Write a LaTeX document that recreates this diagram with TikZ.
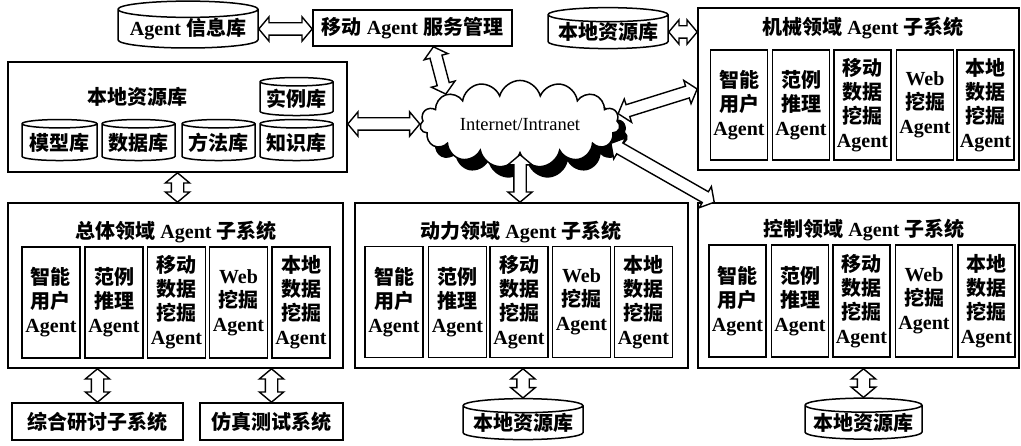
\documentclass[tikz,border=0pt]{standalone}
\usepackage{fontspec}
\setmainfont{Liberation Serif}
\newfontfamily\cjk{Noto Sans CJK SC}
\usetikzlibrary{shapes.geometric,shapes.symbols,shapes.arrows,shadows,calc}
\newcommand\zh[1]{{\cjk #1}}
\newcommand\agentA{\zh{智能}\\\zh{用户}\\Agent}
\newcommand\agentB{\zh{范例}\\\zh{推理}\\Agent}
\newcommand\agentC{\zh{移动}\\\zh{数据}\\\zh{挖掘}\\Agent}
\newcommand\agentD{Web\\\zh{挖掘}\\Agent}
\newcommand\agentE{\zh{本地}\\\zh{数据}\\\zh{挖掘}\\Agent}
\tikzset{
  box/.style={draw, line width=1.6pt, inner sep=0pt},
  dbase/.style={draw, line width=1.5pt, cylinder, shape border rotate=90,
    aspect=0.14, inner sep=0pt, fill=white},
  agentbox/.style={box, minimum width=57pt, minimum height=111pt, align=center},
  linkarrow/.style={draw, line width=1.4pt, double arrow, double arrow head extend=6pt,
    double arrow tip angle=100, inner xsep=0pt, inner ysep=5.5pt, fill=white},
}
\newcommand\link[2]{\path let \p1=($(#1)-(#2)$), \n1={veclen(\x1,\y1)} in
  (#1) -- (#2) node[midway, sloped, linkarrow, minimum height=\n1] {};}
\begin{document}
\begin{tikzpicture}[x=1pt, y=-1pt,
    every node/.append style={font=\bfseries\fontsize{20}{24}\selectfont}]
    \useasboundingbox[fill=white] (0,0) rectangle (1021,446);

    % top row
    \node[dbase, minimum width=140pt, minimum height=38pt] (info) at (188,29) {Agent \zh{信息库}};
    \node[box, minimum width=199pt, minimum height=36pt] (svc) at (412.5,28) {\zh{移动} Agent \zh{服务管理}};
    \node[dbase, minimum width=120pt, minimum height=36pt] (restop) at (608,32) {\zh{本地资源库}};

    % mechanical subsystem
    \node[box, minimum width=321pt, minimum height=162pt] (mech) at (858.5,89) {};
    \node (mechtitle) at (863,28) {\zh{机械领域} Agent \zh{子系统}};
    \node[agentbox, minimum height=110pt] (mechA) at (739,105) {\agentA};
    \node[agentbox, minimum height=110pt] (mechB) at (801,105) {\agentB};
    \node[agentbox, minimum height=110pt] (mechC) at (862.5,105) {\agentC};
    \node[agentbox, minimum height=110pt] (mechD) at (925,105) {\agentD};
    \node[agentbox, minimum height=110pt] (mechE) at (985.5,105) {\agentE};

    % local resources
    \node[box, minimum width=339pt, minimum height=110pt] (lres) at (177.5,117) {};
    \node (lrestitle) at (137.5,97) {\zh{本地资源库}};
    \node[dbase, minimum width=73pt, minimum height=38pt] (cases) at (296.5,99) {\zh{实例库}};
    \node[dbase, minimum width=75pt, minimum height=41pt] (models) at (59.5,142.5) {\zh{模型库}};
    \node[dbase, minimum width=73pt, minimum height=41pt] (data) at (138.5,142.5) {\zh{数据库}};
    \node[dbase, minimum width=73pt, minimum height=41pt] (methods) at (218.5,142.5) {\zh{方法库}};
    \node[dbase, minimum width=73pt, minimum height=41pt] (knowledge) at (296.5,142.5) {\zh{知识库}};

    % network
    \node[cloud, cloud puffs=15, aspect=3, draw, line width=1.5pt, fill=white,
      minimum width=200pt, minimum height=65pt,
      drop shadow={fill=black, opacity=1, shadow xshift=8pt, shadow yshift=-11pt}]
      (cloud) at (520,124) {\mdseries\fontsize{18.5}{20}\selectfont Internet/Intranet};

    % general subsystem
    \node[box, minimum width=335pt, minimum height=165pt] (gen) at (175.5,285.5) {};
    \node (gentitle) at (176,232) {\zh{总体领域} Agent \zh{子系统}};
    \node[agentbox, minimum width=58pt] (genA) at (51,302.5) {\agentA};
    \node[agentbox, minimum width=58pt] (genB) at (114,302.5) {\agentB};
    \node[agentbox, minimum width=58pt] (genC) at (176.5,302.5) {\agentC};
    \node[agentbox, minimum width=58pt] (genD) at (238.5,302.5) {\agentD};
    \node[agentbox, minimum width=58pt] (genE) at (301,302.5) {\agentE};

    % power subsystem
    \node[box, minimum width=333pt, minimum height=165pt] (power) at (521.5,285.5) {};
    \node (powertitle) at (521,232) {\zh{动力领域} Agent \zh{子系统}};
    \node[agentbox, minimum width=58pt] (powerA) at (394,302) {\agentA};
    \node[agentbox, minimum width=58pt] (powerB) at (457.5,302) {\agentB};
    \node[agentbox, minimum width=58pt] (powerC) at (519,302) {\agentC};
    \node[agentbox, minimum width=58pt] (powerD) at (581.5,302) {\agentD};
    \node[agentbox, minimum width=58pt] (powerE) at (643.5,302) {\agentE};

    % control subsystem
    \node[box, minimum width=321pt, minimum height=165pt] (ctrl) at (858.5,285.5) {};
    \node (ctrltitle) at (864,230) {\zh{控制领域} Agent \zh{子系统}};
    \node[agentbox, minimum height=112pt] (ctrlA) at (737.5,301) {\agentA};
    \node[agentbox, minimum height=112pt] (ctrlB) at (800,301) {\agentB};
    \node[agentbox, minimum height=112pt] (ctrlC) at (861.5,301) {\agentC};
    \node[agentbox, minimum height=112pt] (ctrlD) at (924,301) {\agentD};
    \node[agentbox, minimum height=112pt] (ctrlE) at (986.5,301) {\agentE};

    % bottom row
    \node[box, minimum width=171pt, minimum height=37pt] (seminar) at (97.5,421.5) {\zh{综合研讨子系统}};
    \node[box, minimum width=143pt, minimum height=37pt] (simtest) at (271.5,421.5) {\zh{仿真测试系统}};
    \node[dbase, minimum width=120pt, minimum height=40pt] (powerres) at (523,423) {\zh{本地资源库}};
    \node[dbase, minimum width=117pt, minimum height=36pt] (ctrlres) at (863.5,422.5) {\zh{本地资源库}};

    % links
    \link{info.east}{info.east -| svc.west}
    \link{restop.east}{restop.east -| mech.west}
    \link{lres.east |- cloud.west}{cloud.west}
    \link{svc.-42}{cloud.158}
    \link{cloud.6}{mech.west}
    \link{cloud.-12}{ctrl.150}
    \link{cloud.south}{cloud.south |- power.north}
    \link{lres.south}{lres.south |- gen.north}
    \link{seminar.north |- gen.south}{seminar.north}
    \link{simtest.north |- gen.south}{simtest.north}
    \link{powerres.north |- power.south}{powerres.north}
    \link{ctrlres.north |- ctrl.south}{ctrlres.north}
\end{tikzpicture}
\end{document}
